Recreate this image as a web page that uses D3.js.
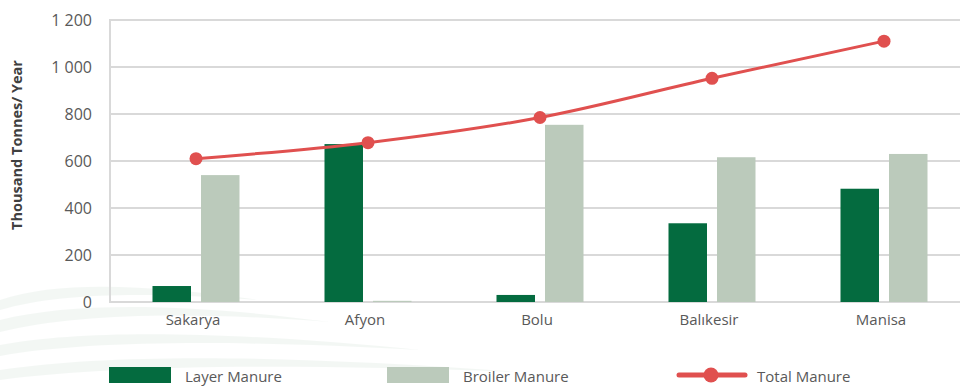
<!DOCTYPE html>
<html><head><meta charset="utf-8">
<script src="https://cdn.jsdelivr.net/npm/d3@7/dist/d3.min.js"></script>
<style>
html,body{margin:0;padding:0;background:#fff;overflow:hidden}
text{font-family:"Open Sans",sans-serif}
</style></head>
<body><svg id="c" width="960" height="387"></svg>
<script>
const categories = ["Sakarya","Afyon","Bolu","Balıkesir","Manisa"];
const layerManure = [68, 672, 30, 335, 482];
const broilerManure = [540, 5, 754, 616, 630];
const totalManure = [610, 678, 785, 952, 1110];
const yTicks = [0,200,400,600,800,1000,1200];
const tickLabels = ["0","200","400","600","800","1 000","1 200"];
const seriesNames = ["Layer Manure","Broiler Manure","Total Manure"];
const colors = {layer:"#046b3f", broiler:"#bbcabb", total:"#e0504f", grid:"#d9d9d9", text:"#595959"};

(function(){
const svg = d3.select("#c");
const W = 960, H = 387;
const mLeft = 110, mRight = 970, mTop = 20, mBottom = 302;

// faint decorative swoosh background
const bg = svg.append("g").attr("opacity",0.4);
const swooshes = [
  "M0,300 C60,280 150,285 260,300 C150,292 60,292 0,310 Z",
  "M0,320 C80,300 200,305 330,322 C200,312 80,312 0,332 Z",
  "M0,345 C90,328 240,332 420,350 C240,340 90,340 0,356 Z",
  "M0,370 C120,352 300,356 520,372 C300,364 120,364 0,380 Z"
];
bg.selectAll("path").data(swooshes).join("path").attr("d",d=>d).attr("fill","#e3ede6");

const x = d3.scaleBand().domain(categories).range([mLeft,mRight]).paddingInner(0).paddingOuter(0);
const y = d3.scaleLinear().domain([0,1200]).range([mBottom,mTop]);

// gridlines
svg.append("g").selectAll("line").data(yTicks).join("line")
  .attr("x1",mLeft).attr("x2",W).attr("y1",d=>y(d)).attr("y2",d=>y(d))
  .attr("stroke",colors.grid).attr("stroke-width",2);
svg.append("line").attr("x1",mLeft).attr("x2",mLeft).attr("y1",mTop-1).attr("y2",mBottom+1)
  .attr("stroke",colors.grid).attr("stroke-width",2);

// y tick labels
const yAxis = d3.axisLeft(y).tickValues(yTicks).tickSize(0).tickPadding(18)
  .tickFormat((d,i)=>tickLabels[i]);
const ya = svg.append("g").attr("transform",`translate(${mLeft},0)`).call(yAxis);
ya.select(".domain").remove();
ya.selectAll("text").attr("fill",colors.text).style("font-size","16px").style("font-family","'Open Sans',sans-serif");

// x labels
const xAxis = d3.axisBottom(x).tickSize(0).tickPadding(12);
const xa = svg.append("g").attr("transform",`translate(-3,${mBottom})`).call(xAxis);
xa.select(".domain").remove();
xa.selectAll("text").attr("fill",colors.text).style("font-size","15px").style("font-family","'Open Sans',sans-serif");

// y title
svg.append("text").attr("transform",`translate(22,${(mTop+mBottom)/2 - 16}) rotate(-90)`)
  .attr("text-anchor","middle").attr("fill","#404040")
  .style("font-size","14.5px").style("font-weight","bold").text("Thousand Tonnes/ Year");

// bars
const bw = 38.5, gap = 10;
const bars = svg.append("g");
categories.forEach((c,i)=>{
  const cx = x(c) + x.bandwidth()/2;
  bars.append("rect").attr("x",cx - gap/2 - bw).attr("width",bw)
    .attr("y",y(layerManure[i])).attr("height",y(0)-y(layerManure[i])).attr("fill",colors.layer);
  bars.append("rect").attr("x",cx + gap/2).attr("width",bw)
    .attr("y",y(broilerManure[i])).attr("height",y(0)-y(broilerManure[i])).attr("fill",colors.broiler);
});

// line
const pts = categories.map((c,i)=>[x(c)+x.bandwidth()/2, y(totalManure[i])]);
svg.append("path").attr("d",d3.line().curve(d3.curveMonotoneX)(pts))
  .attr("fill","none").attr("stroke",colors.total).attr("stroke-width",3);
svg.append("g").selectAll("circle").data(pts).join("circle")
  .attr("cx",d=>d[0]).attr("cy",d=>d[1]).attr("r",6.5).attr("fill",colors.total);

// legend
const lg = svg.append("g");
const ly = 367;
lg.append("rect").attr("x",109).attr("y",ly).attr("width",62).attr("height",16).attr("fill",colors.layer);
lg.append("text").attr("x",185).attr("y",ly+15).attr("fill",colors.text).style("font-size","15px").text(seriesNames[0]);
lg.append("rect").attr("x",387).attr("y",ly).attr("width",62).attr("height",16).attr("fill",colors.broiler);
lg.append("text").attr("x",463).attr("y",ly+15).attr("fill",colors.text).style("font-size","15px").text(seriesNames[1]);
lg.append("line").attr("x1",679).attr("x2",745).attr("y1",ly+8).attr("y2",ly+8)
  .attr("stroke",colors.total).attr("stroke-width",5).attr("stroke-linecap","round");
lg.append("circle").attr("cx",711).attr("cy",ly+8).attr("r",7.5).attr("fill",colors.total);
lg.append("text").attr("x",757).attr("y",ly+15).attr("fill",colors.text).style("font-size","15px").text(seriesNames[2]);
})();
</script></body></html>
